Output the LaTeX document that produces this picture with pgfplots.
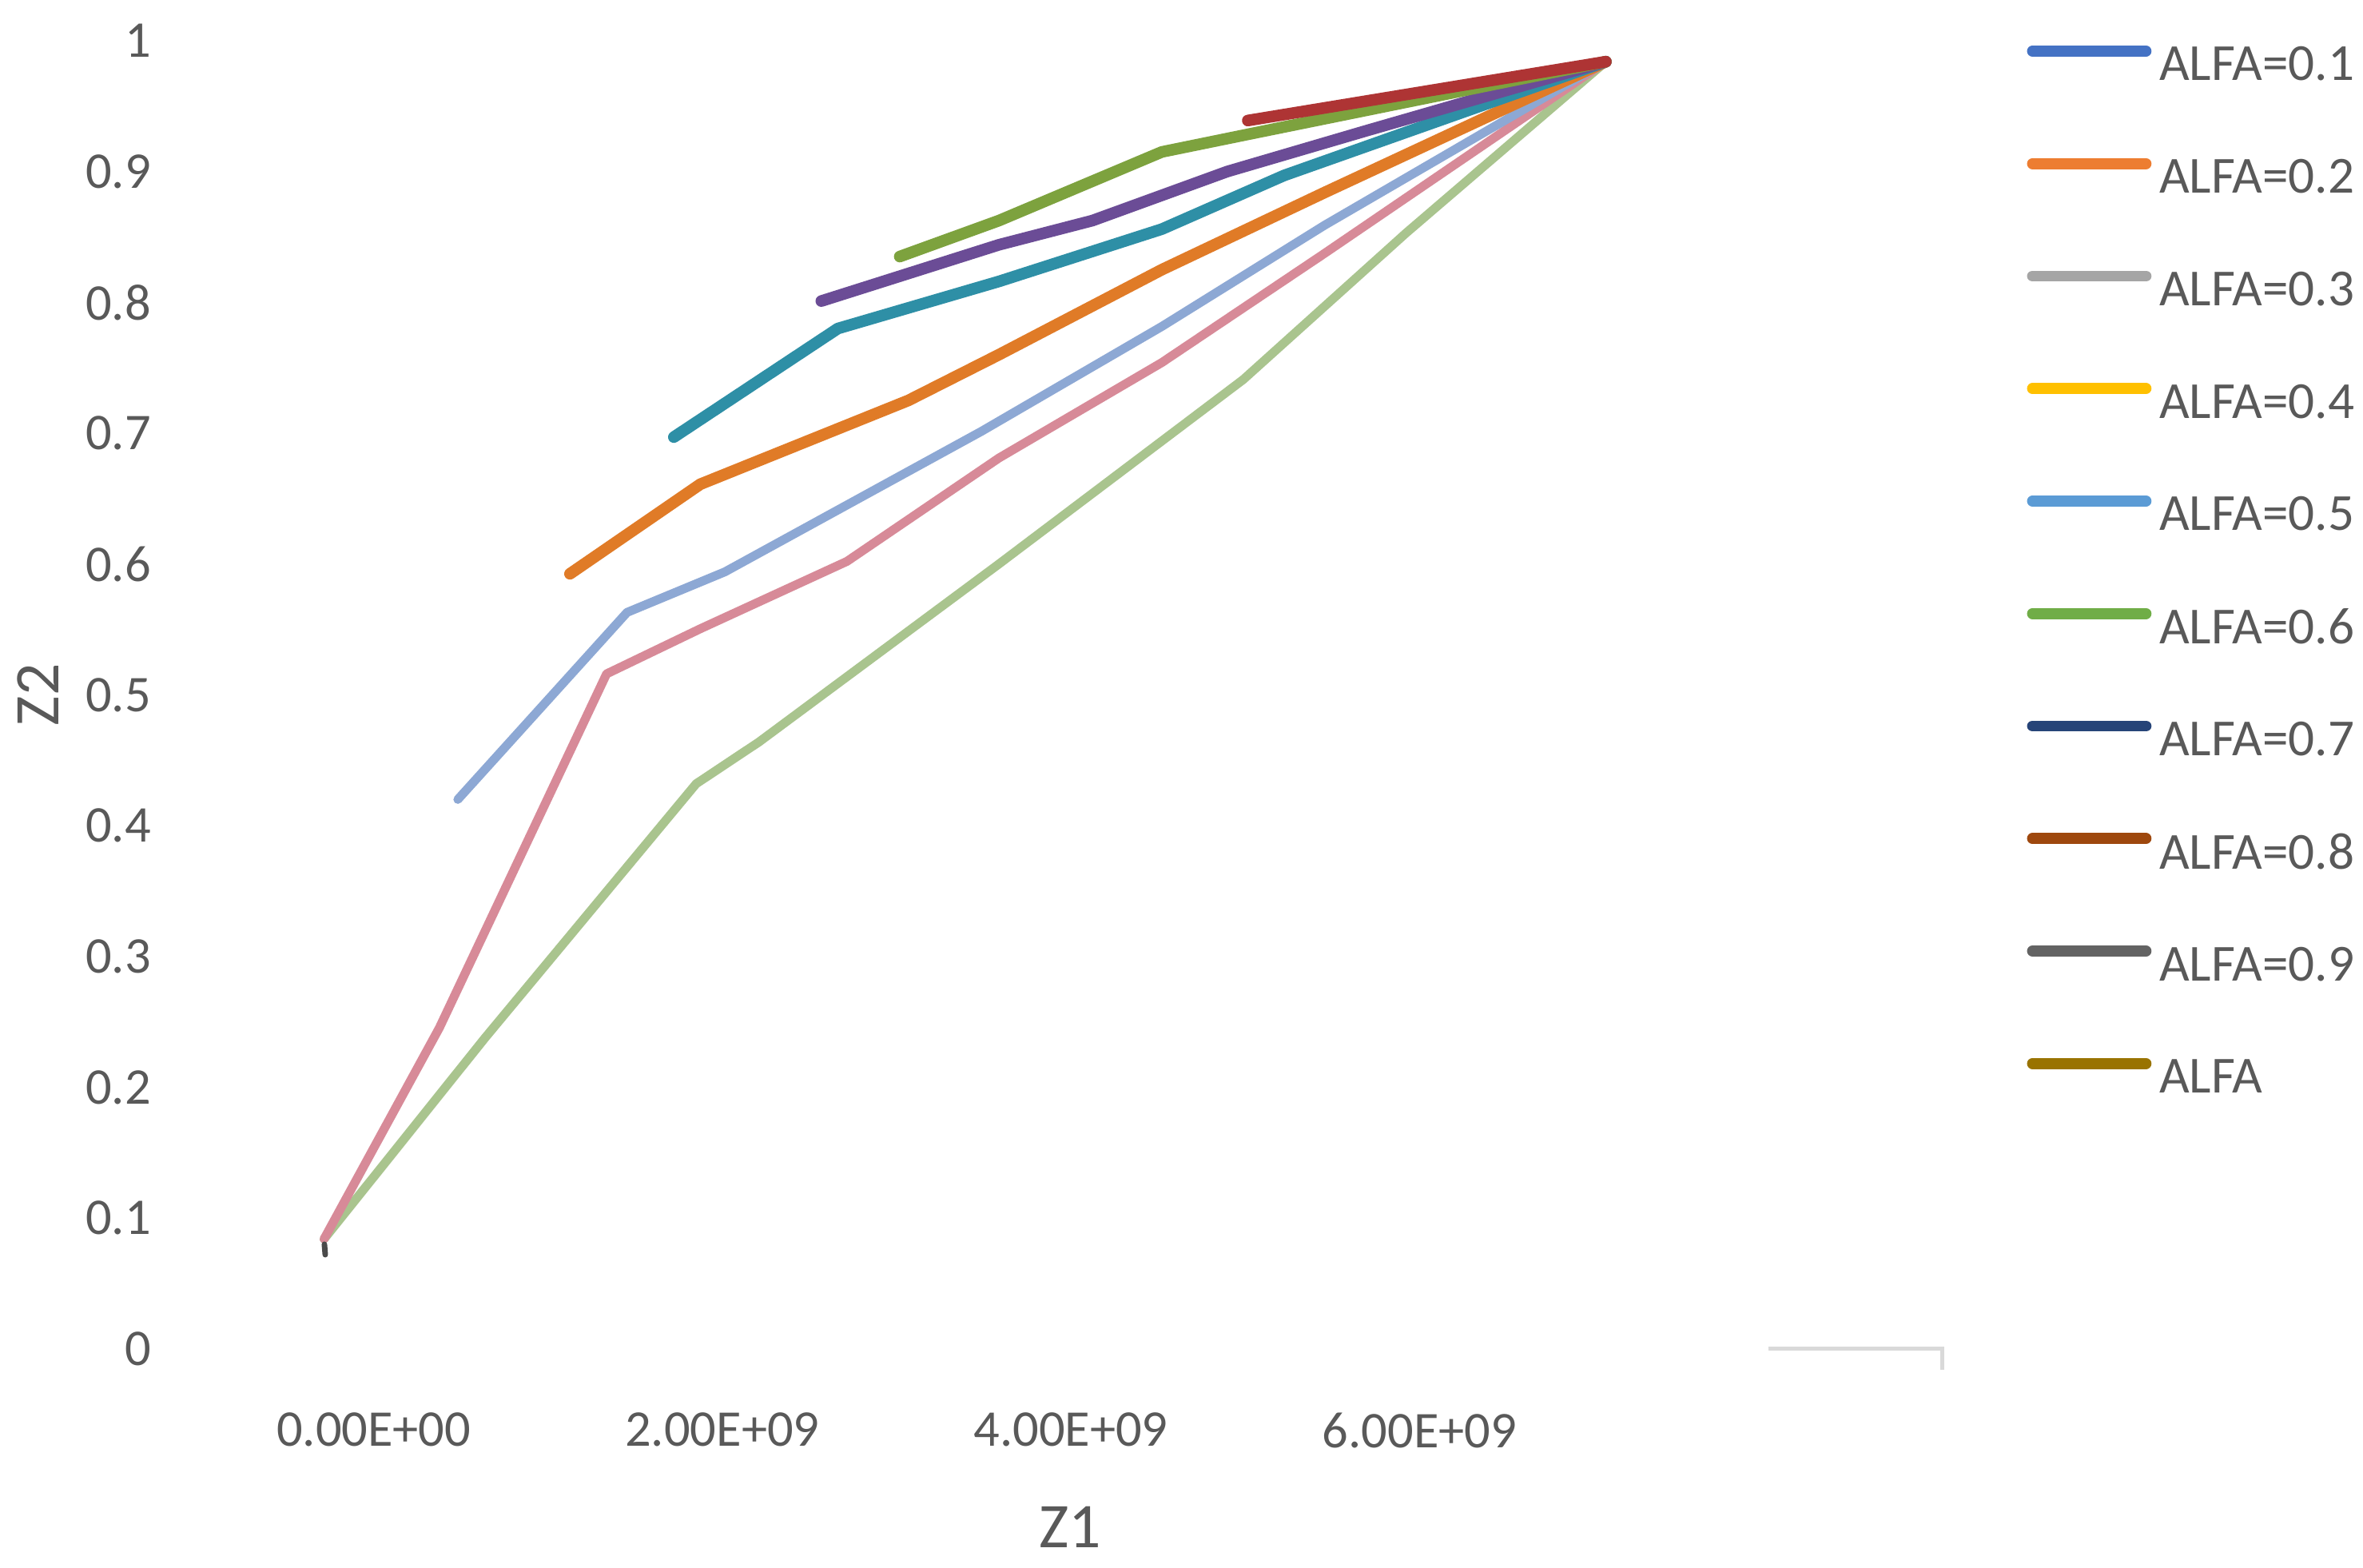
\documentclass[border=0pt]{standalone}
\usepackage{fontspec}
\setmainfont{Carlito}
\usepackage{pgfplots}
\pgfplotsset{compat=1.18}
\definecolor{tickgray}{HTML}{595959}
\definecolor{axgray}{HTML}{D9D9D9}
% colours of the drawn lines
\definecolor{lred}{HTML}{AE3434}
\definecolor{lolive}{HTML}{7DA23E}
\definecolor{lpurple}{HTML}{6B4C96}
\definecolor{lteal}{HTML}{2E8FA6}
\definecolor{lorange}{HTML}{E07B27}
\definecolor{llblue}{HTML}{8DA8D4}
\definecolor{lpink}{HTML}{D78A98}
\definecolor{llgreen}{HTML}{A9C48E}
\definecolor{ldark}{HTML}{4A4A4A}
% colours of the legend
\definecolor{c1}{HTML}{4472C4}
\definecolor{c2}{HTML}{ED7D31}
\definecolor{c3}{HTML}{A5A5A5}
\definecolor{c4}{HTML}{FFC000}
\definecolor{c5}{HTML}{5B9BD5}
\definecolor{c6}{HTML}{70AD47}
\definecolor{c7}{HTML}{264478}
\definecolor{c8}{HTML}{9E480E}
\definecolor{c9}{HTML}{636363}
\definecolor{c10}{HTML}{997300}
\begin{document}
\begin{tikzpicture}
\path[use as bounding box] (-1.0523,-1.3871) rectangle (13.9472,8.5616);
\begin{axis}[
  at={(0,0)}, anchor=south west,
  scale only axis, width=11.288cm, height=8.303cm,
  xmin=-1.193e9, xmax=9.01e9, ymin=0, ymax=1,
  axis line style={draw=none}, tick style={draw=none},
  xtick={0,2e9,4e9,6e9},
  xticklabels={0.00E+00,2.00E+09,4.00E+09,6.00E+09},
  scaled x ticks=false,
  ytick={0,0.1,0.2,0.3,0.4,0.5,0.6,0.7,0.8,0.9,1},
  yticklabels={0,0.1,0.2,0.3,0.4,0.5,0.6,0.7,0.8,0.9,1},
  ticklabel style={font=\fontsize{9.3}{11}\selectfont, text=tickgray},
  xticklabel style={yshift=-0.28cm},
  yticklabel style={xshift=0.03cm},
  xlabel={Z1}, ylabel={Z2},
  label style={font=\fontsize{11.5}{13}\selectfont, text=tickgray},
  xlabel style={at={(axis description cs:0.5085,-0.136)}, anchor=center},
  ylabel style={at={(axis description cs:-0.072,0.5)}, anchor=center},
  clip=false,
  every axis plot/.append style={line cap=round, line join=round},
  legend image code/.code={\draw[#1] (0cm,0.107cm) -- (0.72cm,0.107cm);},
  legend cell align=left,
  legend style={at={(1.0466,1.0222)}, anchor=north west, draw=none, fill=none,
    inner sep=0pt, outer sep=0pt, column sep=0.05cm, row sep=0pt,
    nodes={inner sep=0pt, minimum height=0.714cm, text=tickgray,
      font=\fontsize{9.4}{11}\selectfont}},
]
% remnant of the horizontal axis
\addplot[forget plot, axgray, line width=0.7pt, line cap=butt, line join=miter] coordinates {(8.0e9,0) (9.0e9,0) (9.0e9,-0.016)};

\addplot[forget plot, llgreen, line width=1.6pt] coordinates {
 (-0.285e9,0.084) (0.634e9,0.237) (1.850e9,0.432) (2.211e9,0.464)
 (3.587e9,0.600) (4.989e9,0.741) (5.923e9,0.853) (7.069e9,0.984)};
\addplot[forget plot, lpink, line width=1.6pt] coordinates {
 (-0.285e9,0.084) (0.377e9,0.2455) (1.336e9,0.516) (1.874e9,0.5505)
 (2.715e9,0.602) (3.587e9,0.681) (4.522e9,0.754) (5.456e9,0.8375) (7.069e9,0.984)};
\addplot[forget plot, llblue, line width=1.6pt] coordinates {
 (0.4825e9,0.420) (1.4536e9,0.563) (2.015e9,0.594) (3.488e9,0.7015)
 (4.522e9,0.7816) (5.456e9,0.859) (7.069e9,0.984)};
\addplot[forget plot, lorange, line width=2.1pt] coordinates {
 (1.126e9,0.5925) (1.874e9,0.661) (3.067e9,0.725) (3.587e9,0.760)
 (4.522e9,0.825) (5.456e9,0.884) (7.069e9,0.984)};
\addplot[forget plot, lteal, line width=2.1pt] coordinates {
 (1.722e9,0.697) (2.663e9,0.780) (3.587e9,0.816) (4.522e9,0.856)
 (5.223e9,0.897) (7.069e9,0.984)};
\addplot[forget plot, lpurple, line width=2.1pt] coordinates {
 (2.568e9,0.801) (3.587e9,0.844) (4.123e9,0.8625) (4.897e9,0.900)
 (5.690e9,0.931) (7.069e9,0.984)};
\addplot[forget plot, lolive, line width=2.1pt] coordinates {
 (3.018e9,0.835) (3.587e9,0.8625) (4.522e9,0.915) (5.036e9,0.929) (7.069e9,0.984)};
\addplot[forget plot, lred, line width=2.1pt] coordinates {
 (5.015e9,0.939) (7.069e9,0.984)};
\addplot[forget plot, ldark, line width=1pt] coordinates {
 (-0.283e9,0.080) (-0.278e9,0.072)};

\addlegendimage{c1, line width=2pt}\addlegendentry{ALFA=0.1}
\addlegendimage{c2, line width=2pt}\addlegendentry{ALFA=0.2}
\addlegendimage{c3, line width=2pt}\addlegendentry{ALFA=0.3}
\addlegendimage{c4, line width=2pt}\addlegendentry{ALFA=0.4}
\addlegendimage{c5, line width=2pt}\addlegendentry{ALFA=0.5}
\addlegendimage{c6, line width=2pt}\addlegendentry{ALFA=0.6}
\addlegendimage{c7, line width=2pt}\addlegendentry{ALFA=0.7}
\addlegendimage{c8, line width=2pt}\addlegendentry{ALFA=0.8}
\addlegendimage{c9, line width=2pt}\addlegendentry{ALFA=0.9}
\addlegendimage{c10, line width=2pt}\addlegendentry{ALFA}
\end{axis}
\end{tikzpicture}
\end{document}
